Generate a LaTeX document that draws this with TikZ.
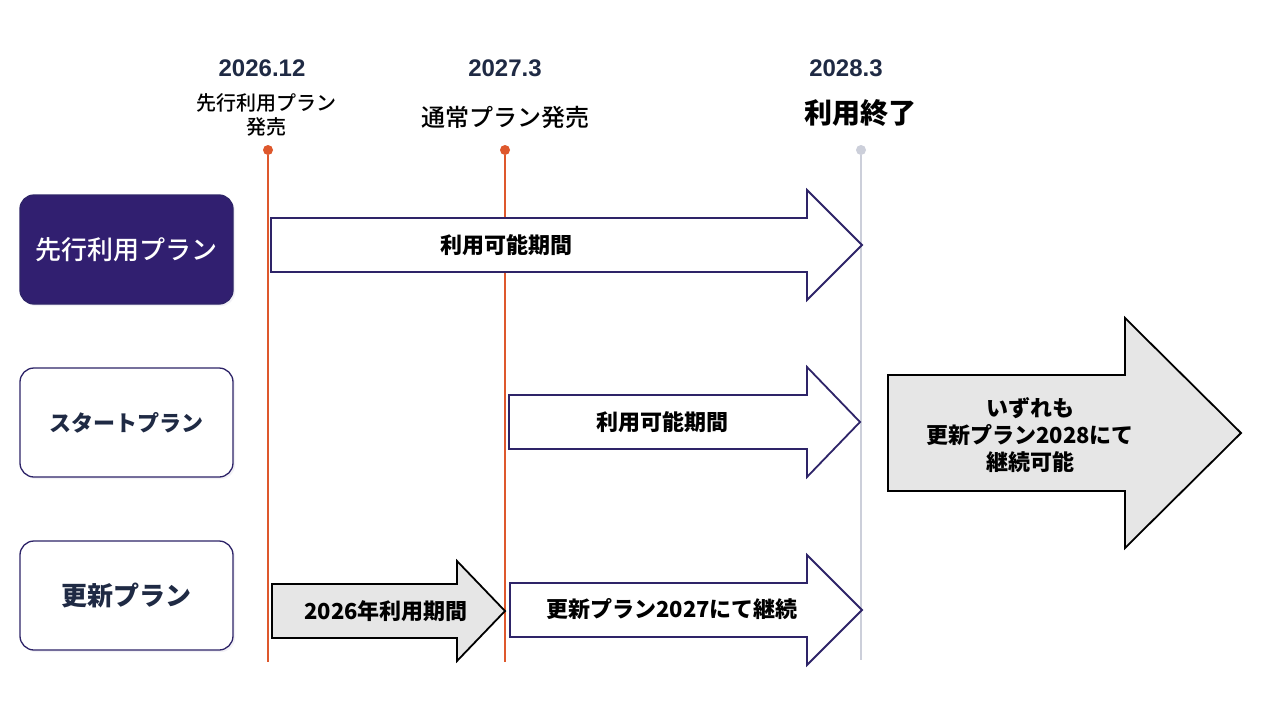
\documentclass[tikz,border=0pt]{standalone}
\usepackage{fontspec}
\setmainfont{Noto Sans CJK JP}
\newfontfamily\datefont{Liberation Sans}
\newfontfamily\mediumfont{Noto Sans CJK JP Medium}
\usetikzlibrary{shadows}
\definecolor{planpurple}{RGB}{49,31,112}
\definecolor{edgepurple}{RGB}{46,36,104}
\definecolor{datenavy}{RGB}{31,42,68}
\definecolor{lineorange}{RGB}{222,88,45}
\definecolor{linegray}{RGB}{204,207,218}
\definecolor{arrowgray}{RGB}{230,230,230}
\tikzset{
  px/.style={x=1pt, y=-1pt},
  date-label/.style={text=datenavy, font=\datefont\bfseries\fontsize{24}{28}\selectfont},
  event-label/.style={align=center, font=\mediumfont\fontsize{20}{24}\selectfont},
  plan-box/.style={
    rounded corners=14pt,
    minimum width=213pt, minimum height=109pt,
    line width=1.3pt, draw=edgepurple,
    drop shadow={shadow xshift=2pt, shadow yshift=-2pt, fill=planpurple!12}
  },
  plan-box-dark/.style={plan-box, fill=planpurple, text=white,
    font=\mediumfont\fontsize{26}{30}\selectfont},
  plan-box-light/.style={plan-box, fill=white, text=datenavy,
    font=\bfseries\fontsize{22}{26}\selectfont},
  dot-orange/.style={circle, fill=lineorange, minimum size=10pt, inner sep=0pt},
  dot-gray/.style={circle, fill=linegray, minimum size=10pt, inner sep=0pt},
  tl-orange/.style={draw=lineorange, line width=1.6pt},
  tl-gray/.style={draw=linegray, line width=1.6pt},
  arrow-open/.style={draw=edgepurple, fill=white, line width=1.8pt, line join=miter},
  arrow-gray/.style={draw=black, fill=arrowgray, line width=1.8pt, line join=miter},
  arrow-label/.style={align=center, font=\bfseries\fontsize{22}{27}\selectfont}
}
% block arrow: style, left x, head x, tip x, centre y, half body, half head
\newcommand{\blockarrow}[7][]{
  \draw[#1] (#2,#5-#6) -- (#3,#5-#6) -- (#3,#5-#7) -- (#4,#5)
    -- (#3,#5+#7) -- (#3,#5+#6) -- (#2,#5+#6) -- cycle;
}

\begin{document}
\begin{tikzpicture}[px]
  \useasboundingbox[fill=white] (0,0) rectangle (1280,720);

  % timeline
  \node[dot-orange] (dot1) at (268,150) {};
  \node[dot-orange] (dot2) at (505,150) {};
  \node[dot-gray] (dot3) at (861,150) {};
  \coordinate (end1) at (268,662);
  \coordinate (end2) at (505,662);
  \coordinate (end3) at (861,660);
  \draw[tl-orange] (dot1) -- (end1);
  \draw[tl-orange] (dot2) -- (end2);
  \draw[tl-gray] (dot3) -- (end3);

  \node[date-label] (date1) at (262,68) {2026.12};
  \node[date-label] (date2) at (505,68) {2027.3};
  \node[date-label] (date3) at (846,68) {2028.3};
  \node[event-label] (event1) at (266,115) {先行利用プラン\\発売};
  \node[event-label, font=\mediumfont\fontsize{24}{28}\selectfont] (event2) at (505,117) {通常プラン発売};
  \node[event-label, font=\bfseries\fontsize{28}{32}\selectfont] (event3) at (860,113) {利用終了};

  % plans
  \node[plan-box-dark] (early) at (126.5,249.5) {先行利用プラン};
  \node[plan-box-light] (start) at (126.5,422.5) {スタートプラン};
  \node[plan-box-light, font=\bfseries\fontsize{26}{30}\selectfont] (renew) at (126.5,595.5) {更新プラン};

  % periods
  \blockarrow[arrow-open]{271}{807}{862}{245}{27}{55}
  \node[arrow-label] (early-period) at (506,245) {利用可能期間};

  \blockarrow[arrow-open]{509}{807}{860}{422}{27}{55}
  \node[arrow-label] (start-period) at (662,422) {利用可能期間};

  \blockarrow[arrow-gray]{272}{457}{505}{611}{27}{50}
  \node[arrow-label] (renew-2026) at (386,611) {2026年利用期間};

  \blockarrow[arrow-open]{510}{807}{862}{610}{27}{55}
  \node[arrow-label] (renew-2027) at (672,609) {更新プラン2027にて継続};

  \blockarrow[arrow-gray]{888}{1125}{1241}{433}{58}{115}
  \node[arrow-label] (renew-2028) at (1030,435)
    {いずれも\\更新プラン2028にて\\継続可能};
\end{tikzpicture}
\end{document}
